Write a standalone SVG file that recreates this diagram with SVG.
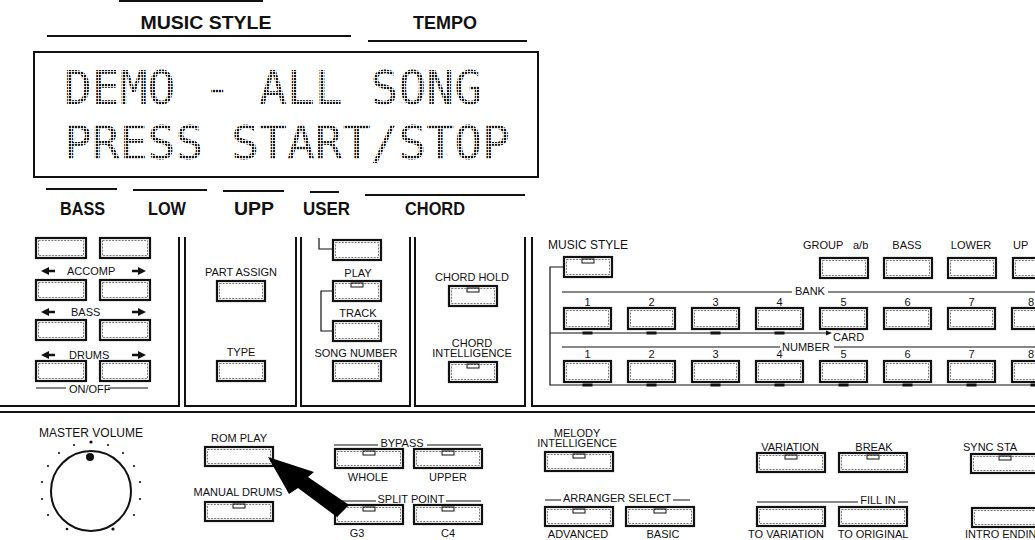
<svg xmlns="http://www.w3.org/2000/svg" xmlns:xlink="http://www.w3.org/1999/xlink" width="1035" height="540" viewBox="0 0 1035 540">
<style>
.b{fill:#fff;stroke:#111;stroke-width:2.2}
.bi{fill:none;stroke:#555;stroke-width:0.8;stroke-dasharray:2 1.2}
.n{fill:none;stroke:#111;stroke-width:1}
.t{font-family:"Liberation Sans",Arial,sans-serif;font-size:11px;fill:#111;text-anchor:middle}
.ts{font-family:"Liberation Sans",Arial,sans-serif;font-size:11px;fill:#111;text-anchor:start}
.h{font-family:"Liberation Sans",Arial,sans-serif;font-weight:bold;font-size:18px;fill:#111;text-anchor:middle}
.lcd{font-family:"DejaVu Sans Mono","Liberation Mono",monospace;font-size:47px;fill:url(#dots)}
.ln{stroke:#111;stroke-width:1.2;fill:none}
.lt{stroke:#111;stroke-width:2;fill:none}
.dash{fill:#111}
</style>
<defs>
<pattern id="dots" width="3" height="3" patternUnits="userSpaceOnUse"><rect width="2.2" height="2.2" fill="#1a1a1a"/></pattern>
<g id="b50"><rect class="b" x="0" y="0" width="50" height="20"/><rect class="bi" x="2.5" y="2.5" width="45" height="15"/></g>
<g id="b48"><rect class="b" x="0" y="0" width="48" height="20"/><rect class="bi" x="2.5" y="2.5" width="43" height="15"/></g>
<g id="b48n"><use xlink:href="#b48"/><rect class="n" x="18" y="2" width="12" height="4"/></g>
<g id="bk"><rect class="b" x="0" y="0" width="47" height="21"/><rect class="bi" x="2.5" y="2.5" width="42" height="16"/></g>
<g id="b68"><rect class="b" x="0" y="0" width="68" height="19"/><rect class="bi" x="2.5" y="2.5" width="63" height="14"/></g>
<g id="b68n"><use xlink:href="#b68"/><rect class="n" x="28" y="2" width="12" height="4"/></g>
<path id="al" d="M0,0 L8,-4 V-1.3 H14 V1.3 H8 V4 Z"/>
<path id="ar" d="M0,0 L-8,-4 V-1.3 H-14 V1.3 H-8 V4 Z"/>
</defs>
<rect width="1035" height="540" fill="#fff"/>

<g id="display">
<line class="lt" x1="119" y1="1" x2="263" y2="1"/>
<text class="h" x="206" y="29" textLength="131" lengthAdjust="spacingAndGlyphs">MUSIC STYLE</text>
<line class="lt" x1="47" y1="36" x2="351" y2="36"/>
<text class="h" x="445" y="29" textLength="64" lengthAdjust="spacingAndGlyphs">TEMPO</text>
<line class="lt" x1="368" y1="41" x2="527" y2="41"/>
<rect x="34" y="52" width="504" height="125" fill="none" stroke="#111" stroke-width="2"/>
<text class="lcd" x="64" y="104" textLength="418" lengthAdjust="spacingAndGlyphs">DEMO - ALL SONG</text>
<text class="lcd" x="64" y="159" textLength="446" lengthAdjust="spacingAndGlyphs">PRESS START/STOP</text>
<line class="lt" x1="46" y1="189" x2="117" y2="189"/>
<text class="h" x="82.5" y="215" textLength="45" lengthAdjust="spacingAndGlyphs">BASS</text>
<line class="lt" x1="133" y1="190" x2="207" y2="190"/>
<text class="h" x="167" y="215" textLength="38" lengthAdjust="spacingAndGlyphs">LOW</text>
<line class="lt" x1="223" y1="191" x2="284" y2="191"/>
<text class="h" x="254" y="215" textLength="40" lengthAdjust="spacingAndGlyphs">UPP</text>
<line class="lt" x1="310" y1="192" x2="339" y2="192"/>
<text class="h" x="326.5" y="215" textLength="47" lengthAdjust="spacingAndGlyphs">USER</text>
<line class="lt" x1="365" y1="195" x2="525" y2="195"/>
<text class="h" x="435" y="215" textLength="60" lengthAdjust="spacingAndGlyphs">CHORD</text>
</g>

<g id="frame">
<path class="lt" d="M0,406 H179 V237 M185,237 V406 H296 V237 M301,237 V406 H410 V237 M415,237 V406 H525 V237 M532,237 V406 H1035"/>
<line class="lt" x1="0" y1="412" x2="1035" y2="412"/>
</g>

<g id="accomp">
<use xlink:href="#b50" x="36" y="238"/><use xlink:href="#b50" x="100" y="238"/>
<use xlink:href="#al" x="41" y="271" class="dash"/><use xlink:href="#ar" x="146" y="271" class="dash"/>
<text class="ts" x="67" y="275">ACCOMP</text>
<use xlink:href="#b50" x="36" y="280"/><use xlink:href="#b50" x="100" y="280"/>
<use xlink:href="#al" x="41" y="312" class="dash"/><use xlink:href="#ar" x="146" y="312" class="dash"/>
<text class="ts" x="71" y="316">BASS</text>
<use xlink:href="#b50" x="36" y="320"/><use xlink:href="#b50" x="100" y="320"/>
<use xlink:href="#al" x="41" y="355" class="dash"/><use xlink:href="#ar" x="146" y="355" class="dash"/>
<text class="ts" x="69" y="359">DRUMS</text>
<use xlink:href="#b50" x="36" y="361"/><use xlink:href="#b50" x="100" y="361"/>
<path class="ln" d="M36,388 H66 M108,388 H148"/>
<text class="ts" x="69" y="393">ON/OFF</text>
</g>

<g id="part-assign">
<text class="t" x="241" y="276">PART ASSIGN</text>
<use xlink:href="#b48" x="217" y="281"/>
</g>
<g id="type">
<text class="t" x="241" y="356">TYPE</text>
<use xlink:href="#b48" x="217" y="361"/>
</g>

<g id="song-top"><use xlink:href="#b48" x="333" y="240"/></g>
<g id="play"><text class="t" x="358" y="277">PLAY</text><use xlink:href="#b48n" x="333" y="281"/></g>
<g id="track"><text class="t" x="358" y="317">TRACK</text><use xlink:href="#b48" x="333" y="321"/></g>
<g id="song-number"><text class="t" x="356" y="357">SONG NUMBER</text><use xlink:href="#b48" x="333" y="361"/></g>

<g id="chord-hold"><text class="t" x="472" y="281">CHORD HOLD</text><use xlink:href="#b48n" x="449" y="286"/></g>
<g id="chord-intelligence"><text class="t" x="472" y="347">CHORD</text><text class="t" x="472" y="357">INTELLIGENCE</text><use xlink:href="#b48n" x="449" y="362"/></g>

<g id="music-style"><text class="t" x="588" y="249" style="font-size:12px">MUSIC STYLE</text><use xlink:href="#b48n" x="564" y="257"/></g>
<g id="group-ab"><text class="ts" x="803" y="249">GROUP<tspan x="853">a/b</tspan></text><use xlink:href="#b48" x="820" y="258"/></g>
<g id="bass"><text class="t" x="907" y="249">BASS</text><use xlink:href="#b48" x="884" y="258"/></g>
<g id="lower"><text class="t" x="971" y="249">LOWER</text><use xlink:href="#b48" x="948" y="258"/></g>
<g id="upper"><text class="ts" x="1013" y="249">UP</text><use xlink:href="#b48" x="1013" y="258"/></g>

<g id="bank">
<text class="ts" x="795" y="295">BANK</text>
<text class="t" x="587.5" y="306">1</text><text class="t" x="651.5" y="306">2</text><text class="t" x="715.5" y="306">3</text><text class="t" x="779.5" y="306">4</text>
<text class="t" x="843.5" y="306">5</text><text class="t" x="907.5" y="306">6</text><text class="t" x="971.5" y="306">7</text><text class="ts" x="1028" y="306">8</text>
<use xlink:href="#bk" x="564" y="308"/><use xlink:href="#bk" x="628" y="308"/><use xlink:href="#bk" x="692" y="308"/><use xlink:href="#bk" x="756" y="308"/>
<use xlink:href="#bk" x="820" y="308"/><use xlink:href="#bk" x="884" y="308"/><use xlink:href="#bk" x="948" y="308"/><use xlink:href="#bk" x="1012" y="308"/>
</g>
<g id="number">
<text class="ts" x="782" y="351">NUMBER</text>
<text class="ts" x="833" y="341">CARD</text>
<text class="t" x="587.5" y="358">1</text><text class="t" x="651.5" y="358">2</text><text class="t" x="715.5" y="358">3</text><text class="t" x="779.5" y="358">4</text>
<text class="t" x="843.5" y="358">5</text><text class="t" x="907.5" y="358">6</text><text class="t" x="971.5" y="358">7</text><text class="ts" x="1028" y="358">8</text>
<use xlink:href="#bk" x="564" y="361"/><use xlink:href="#bk" x="628" y="361"/><use xlink:href="#bk" x="692" y="361"/><use xlink:href="#bk" x="756" y="361"/>
<use xlink:href="#bk" x="820" y="361"/><use xlink:href="#bk" x="884" y="361"/><use xlink:href="#bk" x="948" y="361"/><use xlink:href="#bk" x="1012" y="361"/>
</g>

<g id="master-volume">
<text class="t" x="91" y="437" style="font-size:12px">MASTER VOLUME</text>
<circle cx="91" cy="491" r="40" fill="none" stroke="#111" stroke-width="2"/>
<circle cx="90" cy="457" r="4" fill="#111"/>
<g fill="#111">
<circle cx="91" cy="442" r="1.6"/><circle cx="108" cy="445" r="1.1"/><circle cx="74" cy="445" r="1.1"/>
<circle cx="123" cy="453" r="1.1"/><circle cx="59" cy="453" r="1.1"/><circle cx="134" cy="466" r="1.1"/><circle cx="48" cy="466" r="1.1"/>
<circle cx="140" cy="482" r="1.1"/><circle cx="42" cy="482" r="1.1"/><circle cx="140" cy="499" r="1.1"/><circle cx="42" cy="499" r="1.1"/>
<circle cx="134" cy="515" r="1.1"/><circle cx="48" cy="515" r="1.1"/><circle cx="113" cy="529" r="1.6"/><circle cx="67" cy="529" r="1.3"/>
</g>
</g>

<g id="rom-play"><text class="t" x="239" y="442">ROM PLAY</text><use xlink:href="#b68" x="205" y="447"/></g>
<g id="manual-drums"><text class="t" x="238" y="496">MANUAL DRUMS</text><use xlink:href="#b68n" x="205" y="502"/></g>
<g id="bypass">
<path class="ln" d="M334,445 H378 M427,445 H481"/>
<text class="t" x="402" y="447">BYPASS</text>
<use xlink:href="#b68n" x="335" y="449"/><use xlink:href="#b68n" x="414" y="449"/>
<text class="t" x="368" y="481">WHOLE</text><text class="t" x="448" y="481">UPPER</text>
</g>
<g id="split-point">
<path class="ln" d="M334,501 H376 M446,501 H481"/>
<text class="t" x="411" y="503">SPLIT POINT</text>
<use xlink:href="#b68n" x="335" y="505"/><use xlink:href="#b68n" x="414" y="505"/>
<text class="t" x="357" y="537">G3</text><text class="t" x="448" y="537">C4</text>
</g>
<g id="melody-intelligence"><text class="t" x="577" y="437">MELODY</text><text class="t" x="577" y="447">INTELLIGENCE</text><use xlink:href="#b68n" x="545" y="452"/></g>
<g id="arranger-select">
<path class="ln" d="M545,500 H561 M673,500 H690"/>
<text class="t" x="617" y="502">ARRANGER SELECT</text>
<use xlink:href="#b68n" x="545" y="507"/><use xlink:href="#b68n" x="626" y="507"/>
<text class="t" x="578" y="538">ADVANCED</text><text class="t" x="663" y="538">BASIC</text>
</g>
<g id="variation"><text class="t" x="790" y="451">VARIATION</text><use xlink:href="#b68n" x="757" y="453"/></g>
<g id="break"><text class="t" x="874" y="451">BREAK</text><use xlink:href="#b68n" x="839" y="453"/></g>
<g id="sync-start"><text class="ts" x="963" y="451">SYNC STA</text><use xlink:href="#b68n" x="971" y="454"/></g>
<g id="fill-in">
<path class="ln" d="M757,502 H858 M898,502 H908"/>
<text class="t" x="878" y="504">FILL IN</text>
<use xlink:href="#b68" x="757" y="507"/><use xlink:href="#b68" x="839" y="507"/>
<text class="t" x="786" y="538">TO VARIATION</text><text class="t" x="873" y="538">TO ORIGINAL</text>
</g>
<g id="intro-ending"><use xlink:href="#b68" x="972" y="508"/><text class="ts" x="965" y="538">INTRO ENDIN</text></g>

<g id="connectors">
<path class="ln" d="M319,238 V249 H333"/>
<path class="ln" d="M333,291 H321 V331 H333"/>
<path class="ln" d="M564,267 H550 V385 H1035 M550,333 H826"/>
<path class="dash" d="M826,330.5 L832,333 L826,335.5 Z"/>
<path class="ln" d="M562,292 H792 M828,292 H1035 M562,347 H780 M834,347 H1035"/>
<g class="dash">
<rect x="582.5" y="331.5" width="10" height="3"/><rect x="646.5" y="331.5" width="10" height="3"/><rect x="710.5" y="331.5" width="10" height="3"/><rect x="774.5" y="331.5" width="10" height="3"/>
<rect x="582.5" y="383.5" width="10" height="3"/><rect x="646.5" y="383.5" width="10" height="3"/><rect x="710.5" y="383.5" width="10" height="3"/><rect x="774.5" y="383.5" width="10" height="3"/>
<rect x="838.5" y="383.5" width="10" height="3"/><rect x="902.5" y="383.5" width="10" height="3"/><rect x="966.5" y="383.5" width="10" height="3"/><rect x="1030.5" y="383.5" width="10" height="3"/>
</g>
<polygon points="268,457 314,472 308,477 349,505 337,517 298,488 289,494" fill="#000"/>
</g>
</svg>
